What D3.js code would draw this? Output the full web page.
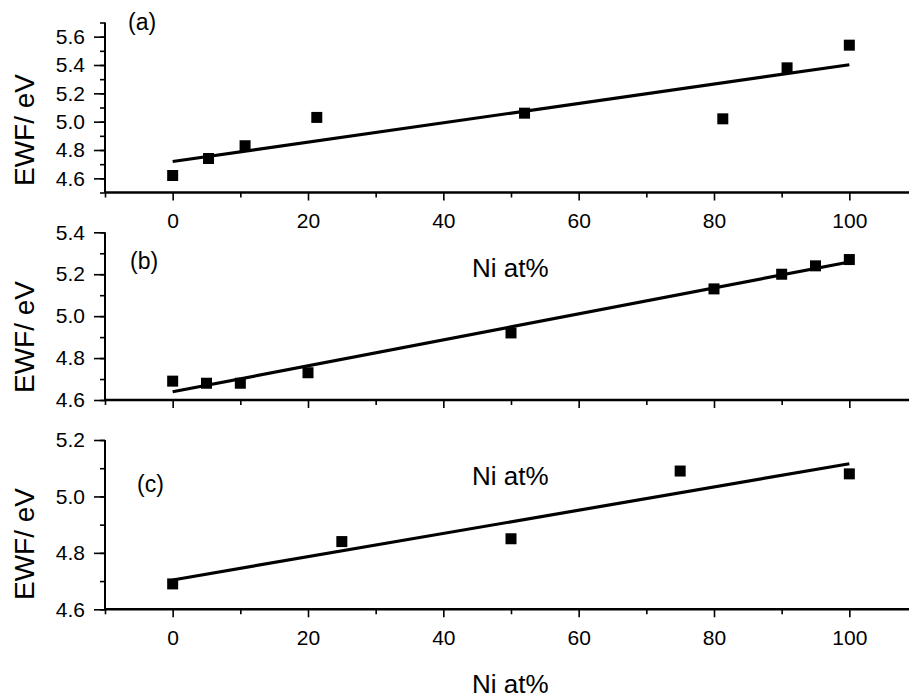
<!DOCTYPE html>
<html>
<head>
<meta charset="utf-8">
<script src="https://cdn.jsdelivr.net/npm/d3@7"></script>
<style>
  html, body { margin: 0; padding: 0; background: #fff; }
  svg { display: block; font-family: "Liberation Sans", Arial, sans-serif; }
</style>
</head>
<body>
<svg id="chart" width="909" height="698"></svg>
<script>
// Electron work function vs. Ni content for three alloy series
const niA = [0, 5.3, 10.7, 21.3, 52, 81.3, 90.8, 100];
const ewfA = [4.62, 4.74, 4.83, 5.03, 5.06, 5.02, 5.38, 5.54];

const niB = [0, 5, 10, 20, 50, 80, 90, 95, 100];
const ewfB = [4.69, 4.68, 4.68, 4.73, 4.92, 5.13, 5.20, 5.24, 5.27];

const niC = [0, 25, 50, 75, 100];
const ewfC = [4.69, 4.84, 4.85, 5.09, 5.08];

const xTicks = [0, 20, 40, 60, 80, 100];
const yTicksA = [4.6, 4.8, 5.0, 5.2, 5.4, 5.6];
const yTicksB = [4.6, 4.8, 5.0, 5.2, 5.4];
const yTicksC = [4.6, 4.8, 5.0, 5.2];
const panelLabels = ["(a)", "(b)", "(c)"];
const xTitle = "Ni at%";
const yTitle = "EWF/ eV";

const svg = d3.select("#chart");
const x = d3.scaleLinear().domain([-10, 110]).range([105, 917]);

const panels = [
  { xs: niA, ys: ewfA, dom: [4.5, 5.7], rng: [192.5, 22.5], ticks: yTicksA, minor: d3.range(4.5, 5.75, 0.1), tickLabels: true,
    label: { x: 128, y: 30 }, niLabel: null, yTitleY: 130 },
  { xs: niB, ys: ewfB, dom: [4.6, 5.4], rng: [400, 232.3], ticks: yTicksB, minor: d3.range(4.6, 5.45, 0.1), tickLabels: false,
    label: { x: 130, y: 269 }, niLabel: { x: 472, y: 277 }, yTitleY: 337 },
  { xs: niC, ys: ewfC, dom: [4.6, 5.2], rng: [609.3, 440], ticks: yTicksC, minor: d3.range(4.6, 5.25, 0.1), tickLabels: true,
    label: { x: 137, y: 492 }, niLabel: { x: 472, y: 485 }, yTitleY: 544 }
];

// Least-squares straight line through each series
function fit(xs, ys) {
  const mx = d3.mean(xs), my = d3.mean(ys);
  let sxy = 0, sxx = 0;
  xs.forEach((v, i) => { sxy += (v - mx) * (ys[i] - my); sxx += (v - mx) * (v - mx); });
  const slope = sxy / sxx;
  return { slope, intercept: my - slope * mx };
}

panels.forEach((p, i) => {
  const y = d3.scaleLinear().domain(p.dom).range(p.rng);
  const g = svg.append("g");
  const y0 = p.rng[0];

  // x axis: major ticks every 20, minor every 10
  const xMinor = g.append("g").attr("transform", `translate(0,${y0})`)
    .call(d3.axisBottom(x).tickValues(d3.range(-10, 111, 20)).tickSize(5).tickFormat(""));
  xMinor.select(".domain").remove();
  const xAxis = g.append("g").attr("transform", `translate(0,${y0})`)
    .call(d3.axisBottom(x).tickValues(xTicks).tickSize(8).tickPadding(13)
      .tickFormat(p.tickLabels ? d3.format("d") : ""));
  xAxis.select(".domain").attr("d", `M${x.range()[0]},0H${x.range()[1]}`).attr("stroke-width", 2.5);
  xAxis.selectAll("text").attr("font-size", 21).attr("fill", "#000").attr("font-family", "Liberation Sans, Arial, sans-serif");

  // y axis: labelled every 0.2, minor every 0.1
  const yMinor = g.append("g").attr("transform", `translate(${x.range()[0]},0)`)
    .call(d3.axisLeft(y).tickValues(p.minor).tickSize(5).tickFormat(""));
  yMinor.select(".domain").remove();
  const yAxis = g.append("g").attr("transform", `translate(${x.range()[0]},0)`)
    .call(d3.axisLeft(y).tickValues(p.ticks).tickSize(11).tickPadding(9).tickFormat(d3.format(".1f")));
  yAxis.select(".domain").attr("d", `M0,${p.rng[0]}V${p.rng[1]}`).attr("stroke-width", 2);
  yAxis.selectAll("text").attr("font-size", 21).attr("fill", "#000").attr("font-family", "Liberation Sans, Arial, sans-serif");
  g.selectAll(".tick line").attr("stroke-width", 1.6);

  // fitted line
  const f = fit(p.xs, p.ys);
  const xmin = d3.min(p.xs), xmax = d3.max(p.xs);
  g.append("line")
    .attr("x1", x(xmin)).attr("y1", y(f.intercept + f.slope * xmin))
    .attr("x2", x(xmax)).attr("y2", y(f.intercept + f.slope * xmax))
    .attr("stroke", "#000").attr("stroke-width", 3.2);

  // measured points
  const s = 11;
  g.selectAll("rect.pt").data(p.xs).join("rect").attr("class", "pt")
    .attr("x", (d) => x(d) - s / 2)
    .attr("y", (d, k) => y(p.ys[k]) - s / 2)
    .attr("width", s).attr("height", s).attr("fill", "#000");

  // panel tag
  g.append("text").attr("x", p.label.x).attr("y", p.label.y)
    .attr("font-size", 23).text(panelLabels[i]);

  if (p.niLabel) {
    g.append("text").attr("x", p.niLabel.x).attr("y", p.niLabel.y)
      .attr("font-size", 26).text(xTitle);
  }

  g.append("text")
    .attr("transform", `translate(34,${p.yTitleY}) rotate(-90)`)
    .attr("text-anchor", "middle")
    .attr("font-size", 28).text(yTitle);
});

svg.append("text").attr("x", 472).attr("y", 693).attr("font-size", 26).text(xTitle);
</script>
</body>
</html>
